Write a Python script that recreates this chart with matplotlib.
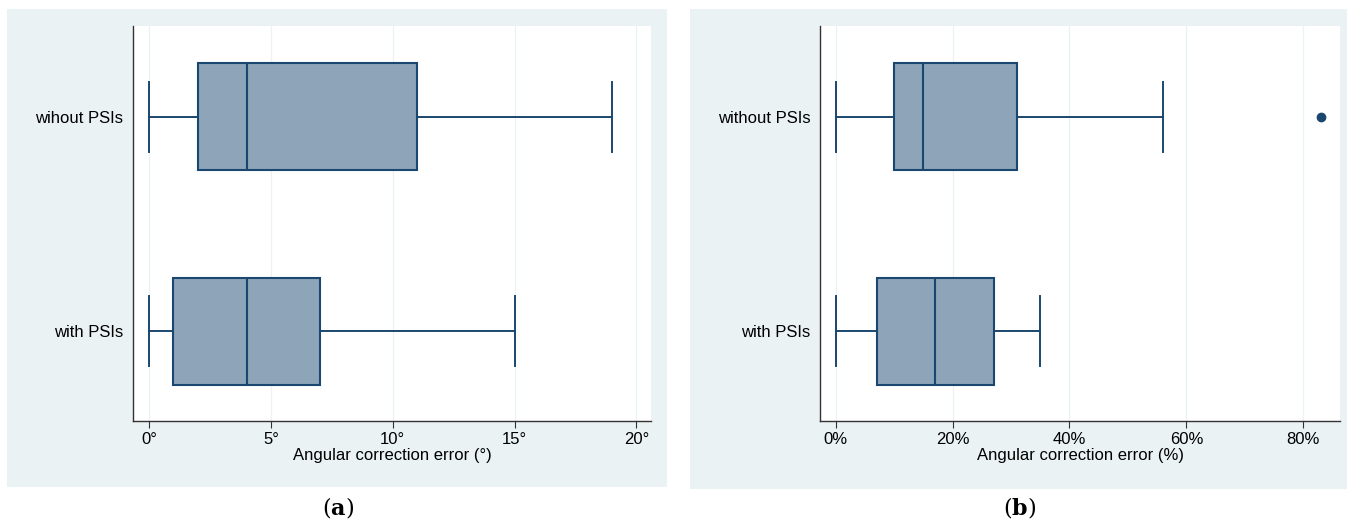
import numpy as np
import matplotlib
matplotlib.use('Agg')
import matplotlib.pyplot as plt
from matplotlib.patches import Rectangle

# box plot summaries: (min, q1, median, q3, max)
groups_a = ['with PSIs', 'wihout PSIs']
stats_a = [(0, 1, 4, 7, 15), (0, 2, 4, 11, 19)]
outliers_a = [[], []]
ticks_a = [0, 5, 10, 15, 20]
ticklabels_a = ['0°', '5°', '10°', '15°', '20°']

groups_b = ['with PSIs', 'without PSIs']
stats_b = [(0, 7, 17, 27, 35), (0, 10, 15, 31, 56)]
outliers_b = [[], [83]]
ticks_b = [0, 20, 40, 60, 80]
ticklabels_b = ['0%', '20%', '40%', '60%', '80%']

NAVY = '#1a476f'
FILL = '#8ea5b9'
BG = '#eaf2f3'

plt.rcParams['font.family'] = ['Liberation Sans', 'DejaVu Sans']
plt.rcParams['mathtext.fontset'] = 'dejavuserif'

fig = plt.figure(figsize=(13.54, 5.24), dpi=100)
fig.patch.set_facecolor('white')

# panel backgrounds (figure fractions)
fig.add_artist(Rectangle((0.0052, 0.0706), 0.4874, 0.9122, transform=fig.transFigure,
                         facecolor=BG, edgecolor='none', zorder=0))
fig.add_artist(Rectangle((0.5096, 0.0668), 0.4852, 0.9160, transform=fig.transFigure,
                         facecolor=BG, edgecolor='none', zorder=0))


def draw_panel(ax, groups, stats, outliers, ticks, ticklabels, xlim, xlabel):
    bstats = []
    for name, (lo, q1, med, q3, hi), fl in zip(groups, stats, outliers):
        bstats.append(dict(label=name, whislo=lo, q1=q1, med=med, q3=q3,
                           whishi=hi, fliers=fl))
    ax.bxp(bstats, positions=[1, 2], vert=False, widths=0.5, patch_artist=True,
           showfliers=True, showcaps=True,
           boxprops=dict(facecolor=FILL, edgecolor=NAVY, linewidth=1.5),
           medianprops=dict(color=NAVY, linewidth=1.5),
           whiskerprops=dict(color=NAVY, linewidth=1.4),
           capprops=dict(color=NAVY, linewidth=1.4),
           capwidths=0.33,
           flierprops=dict(marker='o', markerfacecolor=NAVY, markeredgecolor=NAVY,
                           markersize=6))
    ax.set_ylim(0.58, 2.425)
    ax.set_xlim(*xlim)
    ax.set_xticks(ticks)
    ax.set_xticklabels(ticklabels, fontsize=12)
    ax.set_yticks([1, 2])
    ax.set_yticklabels(groups, fontsize=12)
    ax.tick_params(axis='y', length=0, pad=7)
    ax.tick_params(axis='x', length=5, color='#333333', pad=3)
    ax.set_xlabel(xlabel, fontsize=12, labelpad=1)
    ax.grid(axis='x', color=BG, linewidth=0.9)
    ax.set_axisbelow(True)
    for s in ['top', 'right']:
        ax.spines[s].set_visible(False)
    for s in ['left', 'bottom']:
        ax.spines[s].set_color('#333333')
        ax.spines[s].set_linewidth(1.0)
    ax.set_facecolor('white')


ax1 = fig.add_axes([0.0982, 0.1966, 0.3826, 0.7538])
draw_panel(ax1, groups_a, stats_a, outliers_a, ticks_a, ticklabels_a,
           (-0.66, 20.6), 'Angular correction error (°)')

ax2 = fig.add_axes([0.6056, 0.1966, 0.3841, 0.7538])
draw_panel(ax2, groups_b, stats_b, outliers_b, ticks_b, ticklabels_b,
           (-2.7, 86.3), 'Angular correction error (%)')

fig.text(0.2496, 0.032, r'($\mathbf{a}$)', ha='center', va='center', fontsize=16,
         family='DejaVu Serif')
fig.text(0.7530, 0.032, r'($\mathbf{b}$)', ha='center', va='center', fontsize=16,
         family='DejaVu Serif')

fig.savefig('out.png', dpi=100, facecolor='white')
